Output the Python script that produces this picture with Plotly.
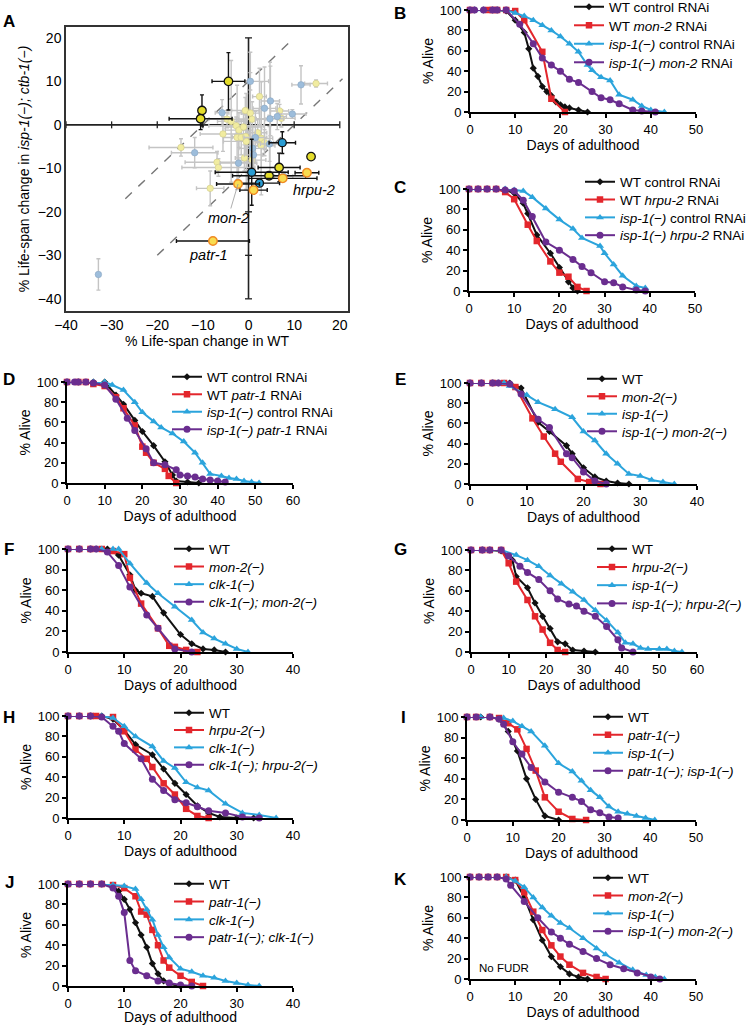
import plotly.graph_objects as go

W, H = 750, 1025
FONT = "Liberation Sans, Arial, sans-serif"

# ---------------- Panel A data ----------------
A_ticks = [-40, -30, -20, -10, 0, 10, 20]
# significant, yellow (black outline)
A_sy_x = [-4.4, -10.2, -10.5, 13.7, 6.7, 4.5]
A_sy_y = [10.0, 3.3, 1.4, -7.3, -9.8, -11.7]
A_sy_xe = [3.6, 0.0, 6.9, 0.0, 4.6, 8.0]
A_sy_ye = [6.6, 3.6, 2.5, 0.0, 3.3, 0.8]
# significant, blue (black outline)
A_sb_x = [7.4, 0.7, 2.4]
A_sb_y = [-4.1, -10.9, -13.4]
A_sb_xe = [2.9, 8.0, 4.4]
A_sb_ye = [2.5, 7.6, 0.6]
# highlighted (orange outline)
A_so_x = [12.8, 7.5, -2.3, 1.1, -7.8]
A_so_y = [-11.0, -12.3, -13.6, -15.0, -26.7]
A_so_xe = [2.6, 7.5, 4.7, 3.0, 8.0]
A_so_ye = [0.5, 0.5, 0.5, 0.5, 0.3]
# not significant, blue
A_nb_x = [-32.9, 11.5, 0.4, -5.8, -11.8, 4.8, 3.5, 6.3, 9.6, 4.7, 1.5, 4.6, 0.9, 1.1, -2.2, 7.7]
A_nb_y = [-34.4, 9.2, 10.0, 2.8, -6.4, 5.5, 3.8, 1.9, 2.5, 1.4, -2.9, -4.4, -5.4, -6.9, -8.8, -11.8]
A_nb_xe = [0.0, 2.0, 4.0, 1.5, 5.1, 2.0, 2.5, 2.0, 3.0, 3.0, 2.5, 2.0, 3.0, 2.0, 4.0, 2.0]
A_nb_ye = [3.6, 4.4, 2.0, 3.0, 3.5, 8.0, 9.5, 3.0, 1.0, 13.0, 6.0, 4.0, 5.0, 4.0, 5.0, 1.0]
# not significant, yellow
A_ny_x = [14.8, 2.4, -0.7, 0.4, 6.8, 7.2, -4.7, -3.8, -2.7, -2.1, -1.1, 0.8, -2.5, -1.6, -0.6,
          -0.5, 2.0, 2.8, 3.5, 2.8, -0.9, 0.8, -14.8, -6.9, -6.6, -8.4, -5.6]
A_ny_y = [9.5, 6.5, 3.3, 2.7, 3.2, 1.5, 1.3, 0.8, -0.2, -1.2, -0.5, 1.3, -2.9, -2.9, -2.7,
          -3.8, -1.8, -3.1, -4.1, -4.8, -7.6, -8.1, -5.2, -8.6, -9.8, -14.6, -2.1]
A_ny_xe = [2.5, 1.5, 3.0, 2.0, 2.0, 3.0, 4.0, 3.0, 6.0, 3.0, 4.0, 3.0, 3.0, 2.0, 3.0,
           5.0, 2.0, 2.5, 2.0, 3.0, 2.0, 3.0, 7.0, 7.0, 8.0, 3.0, 5.0]
A_ny_ye = [0.8, 6.5, 3.0, 14.0, 1.5, 2.0, 2.0, 14.0, 2.0, 4.0, 3.0, 4.0, 12.0, 4.0, 5.0,
           11.0, 3.0, 13.0, 3.0, 9.0, 3.0, 2.0, 2.0, 2.5, 2.0, 4.0, 4.0]
A_labels = ["hrpu-2", "mon-2", "patr-1"]

# ---------------- Survival data ----------------
B_wt_d = [0, 1, 3, 5, 6, 8, 10, 12, 13, 14, 15, 16, 17, 18, 19, 20, 21, 22, 24, 26]
B_wt_s = [100, 100, 100, 100, 100, 99, 90, 78, 62, 43, 35, 25, 20, 16, 10, 7, 5, 4, 2, 0]
B_r_d = [0, 4, 5, 6, 8, 10, 12, 16, 18, 21]
B_r_s = [100, 100, 100, 100, 100, 99, 90, 59, 13, 0]
B_b_d = [0, 1, 3, 5, 6, 8, 10, 12, 14, 16, 18, 20, 22, 24, 26, 27, 29, 31, 33, 36, 38, 40, 43]
B_b_s = [100, 100, 100, 100, 100, 100, 97, 94, 90, 85, 80, 74, 67, 59, 46, 41, 34, 31, 17, 12, 6, 2, 0]
B_p_d = [0, 1, 3, 5, 6, 8, 11, 14, 16, 18, 20, 22, 24, 27, 29, 31, 33, 36, 38, 41]
B_p_s = [100, 100, 100, 100, 100, 100, 86, 67, 53, 46, 40, 32, 29, 20, 14, 12, 8, 2, 1, 0]

C_wt_d = [0, 2, 4, 6, 8, 10, 12, 13, 15, 18, 20, 22, 23, 24]
C_wt_s = [100, 100, 100, 100, 99, 96, 86, 76, 55, 37, 23, 9, 3, 0]
C_r_d = [0, 2, 4, 6, 8, 10, 13, 15, 18, 20, 22, 24, 26]
C_r_s = [100, 100, 100, 100, 97, 90, 65, 49, 29, 18, 14, 4, 0]
C_b_d = [0, 2, 4, 6, 8, 10, 12, 14, 17, 20, 23, 25, 29, 30, 32, 34, 37, 39]
C_b_s = [100, 100, 100, 100, 100, 99, 98, 92, 81, 70, 61, 52, 44, 37, 26, 15, 5, 3]
C_p_d = [0, 2, 4, 6, 8, 10, 12, 14, 17, 20, 23, 25, 27, 30, 32, 34, 37, 39]
C_p_s = [100, 100, 100, 100, 99, 98, 89, 73, 48, 40, 31, 24, 18, 9, 8, 4, 1, 0]

D_wt_d = [0, 3, 7, 10, 13, 15, 18, 20, 23, 26, 28, 29, 32, 35]
D_wt_s = [100, 100, 100, 100, 87, 78, 62, 51, 37, 21, 8, 2, 1, 0]
D_r_d = [0, 3, 5, 7, 10, 13, 15, 18, 20, 21, 23, 26, 27, 29]
D_r_s = [100, 100, 100, 98, 96, 85, 74, 57, 36, 30, 20, 14, 7, 0]
D_b_d = [0, 3, 7, 10, 12, 15, 18, 20, 23, 25, 28, 31, 34, 36, 38, 41, 43, 45, 47, 49, 51]
D_b_s = [100, 100, 100, 100, 97, 92, 80, 70, 61, 55, 49, 41, 30, 20, 9, 7, 5, 4, 2, 1, 0]
D_p_d = [0, 2, 3, 5, 7, 10, 13, 16, 18, 21, 23, 26, 29, 30, 32, 34, 36, 38, 40, 42]
D_p_s = [100, 100, 100, 100, 99, 97, 83, 64, 52, 34, 20, 18, 13, 8, 7, 6, 4, 3, 2, 1]

E_wt_d = [0, 2, 4, 5, 7, 9, 12, 14, 17, 18, 20, 22, 24, 26, 28]
E_wt_s = [100, 100, 100, 100, 100, 95, 61, 52, 38, 30, 16, 7, 3, 1, 0]
E_r_d = [0, 2, 4, 6, 8, 11, 13, 15, 16, 19, 21, 23]
E_r_s = [100, 100, 100, 100, 96, 65, 47, 30, 22, 5, 2, 0]
E_b_d = [0, 2, 4, 6, 7, 10, 12, 15, 18, 20, 22, 24, 26, 28, 30, 32, 34, 36]
E_b_s = [100, 100, 100, 100, 97, 88, 81, 74, 66, 52, 43, 30, 20, 10, 8, 4, 2, 0]
E_p_d = [0, 2, 4, 5, 7, 9, 12, 14, 17, 18, 20, 22, 24]
E_p_s = [100, 100, 100, 100, 99, 89, 64, 56, 30, 26, 12, 3, 0]

F_wt_d = [0, 2, 4, 5, 7, 9, 11, 12, 13, 15, 17, 20, 22, 24, 26, 28]
F_wt_s = [100, 100, 100, 100, 100, 94, 75, 60, 57, 54, 38, 17, 8, 3, 2, 0]
F_r_d = [0, 2, 4, 6, 8, 10, 11, 13, 16, 18, 19, 21, 23]
F_r_s = [100, 100, 100, 100, 98, 95, 72, 47, 23, 6, 5, 2, 0]
F_b_d = [0, 2, 4, 6, 8, 9, 11, 14, 16, 19, 22, 24, 26, 28, 30, 32]
F_b_s = [100, 100, 100, 100, 100, 100, 86, 67, 57, 44, 31, 19, 13, 8, 3, 0]
F_p_d = [0, 2, 4, 5, 7, 9, 11, 14, 16, 19, 22]
F_p_s = [100, 100, 100, 100, 97, 84, 63, 36, 23, 3, 0]

G_wt_d = [0, 3, 5, 8, 11, 12, 15, 17, 19, 21, 23, 25, 27, 30, 33]
G_wt_s = [100, 100, 100, 99, 90, 74, 63, 48, 35, 23, 10, 8, 2, 1, 0]
G_r_d = [0, 3, 5, 8, 10, 12, 15, 17, 19, 21, 23, 25]
G_r_s = [100, 100, 100, 100, 87, 69, 51, 35, 22, 9, 2, 0]
G_b_d = [0, 3, 5, 8, 12, 15, 18, 21, 24, 27, 30, 33, 36, 39, 41, 43, 45, 47, 50, 52, 54, 56]
G_b_s = [100, 100, 100, 100, 95, 90, 84, 75, 67, 59, 51, 41, 31, 19, 9, 8, 4, 3, 3, 3, 1, 0]
G_p_d = [0, 3, 5, 8, 10, 13, 15, 18, 21, 23, 26, 28, 30, 33, 36, 39, 40, 43]
G_p_s = [100, 100, 100, 100, 94, 84, 78, 71, 60, 52, 47, 45, 40, 35, 25, 12, 4, 0]

H_wt_d = [0, 2, 4, 6, 8, 10, 12, 15, 17, 19, 21, 23, 25, 27, 30, 33]
H_wt_s = [100, 100, 100, 100, 97, 86, 72, 62, 48, 34, 23, 12, 5, 1, 0, 0]
H_r_d = [0, 2, 4, 5, 8, 10, 12, 14, 15, 17, 19, 21, 23, 25]
H_r_s = [100, 100, 100, 100, 99, 85, 67, 58, 50, 34, 23, 9, 2, 0]
H_b_d = [0, 2, 4, 6, 8, 10, 12, 15, 17, 19, 21, 23, 25, 28, 31, 34, 37]
H_b_s = [100, 100, 100, 100, 98, 90, 80, 70, 56, 49, 35, 30, 27, 14, 5, 3, 0]
H_p_d = [0, 2, 4, 6, 8, 9, 10, 13, 15, 17, 19, 21, 23, 25, 28, 31, 34]
H_p_s = [100, 100, 100, 99, 90, 85, 73, 58, 38, 27, 18, 15, 11, 7, 5, 1, 0]

I_wt_d = [0, 3, 5, 7, 9, 11, 13, 15, 17, 20]
I_wt_s = [100, 100, 100, 98, 86, 67, 40, 20, 4, 0]
I_r_d = [0, 2, 5, 7, 9, 11, 13, 15, 17, 20, 23, 26]
I_r_s = [100, 100, 100, 99, 94, 88, 69, 48, 22, 8, 1, 0]
I_b_d = [0, 3, 5, 8, 10, 12, 14, 17, 20, 23, 25, 27, 29, 31, 33, 35, 37, 39, 41]
I_b_s = [100, 100, 100, 99, 96, 91, 86, 72, 55, 47, 38, 29, 22, 13, 8, 6, 4, 2, 0]
I_p_d = [0, 2, 5, 7, 8, 10, 12, 14, 17, 20, 23, 25, 27, 29, 31, 33]
I_p_s = [100, 100, 100, 98, 93, 76, 64, 51, 37, 27, 22, 18, 10, 7, 3, 2]

J_wt_d = [0, 2, 4, 6, 8, 9, 10, 11, 12, 13, 14, 15, 16, 17, 18, 20]
J_wt_s = [100, 100, 100, 100, 98, 93, 85, 75, 62, 50, 38, 22, 12, 5, 2, 0]
J_r_d = [0, 2, 4, 6, 8, 10, 12, 13, 14, 15, 16, 17, 18, 20, 22, 24]
J_r_s = [100, 100, 100, 100, 99, 96, 88, 73, 70, 55, 40, 25, 18, 10, 4, 0]
J_b_d = [0, 2, 4, 6, 8, 10, 12, 13, 14, 15, 16, 17, 18, 20, 22, 24, 26, 28, 30, 32, 34]
J_b_s = [100, 100, 100, 100, 99, 98, 95, 85, 75, 65, 50, 38, 28, 17, 14, 10, 8, 5, 3, 1, 0]
J_p_d = [0, 2, 4, 6, 8, 9, 10, 11, 12, 14, 16, 18, 20, 22]
J_p_s = [100, 100, 100, 100, 96, 88, 72, 25, 15, 10, 5, 3, 1, 0]

K_wt_d = [0, 2, 4, 6, 8, 10, 12, 14, 16, 18, 20, 22, 24, 26]
K_wt_s = [100, 100, 100, 100, 100, 97, 80, 58, 38, 22, 12, 5, 2, 0]
K_r_d = [0, 2, 4, 6, 8, 10, 12, 14, 16, 18, 20, 22, 25, 28, 30]
K_r_s = [100, 100, 100, 100, 100, 97, 85, 66, 48, 33, 22, 14, 6, 2, 0]
K_b_d = [0, 2, 4, 6, 8, 10, 12, 14, 16, 18, 20, 22, 25, 28, 30, 33, 36, 39, 41, 43]
K_b_s = [100, 100, 100, 100, 100, 96, 90, 80, 70, 62, 55, 50, 40, 30, 24, 16, 9, 4, 2, 0]
K_p_d = [0, 2, 4, 6, 8, 9, 12, 15, 18, 20, 22, 25, 28, 31, 34, 37, 40, 42]
K_p_s = [100, 100, 100, 100, 98, 92, 76, 60, 46, 40, 34, 27, 20, 14, 10, 6, 2, 0]

MINUS = "\u2212"
def neg(g):
    return f"<i>{g}({MINUS})</i>"

B_names = ["WT control RNAi", "WT <i>mon-2</i> RNAi", neg("isp-1") + " control RNAi", neg("isp-1") + " <i>mon-2</i> RNAi"]
C_names = ["WT control RNAi", "WT <i>hrpu-2</i> RNAi", neg("isp-1") + " control RNAi", neg("isp-1") + " <i>hrpu-2</i> RNAi"]
D_names = ["WT control RNAi", "WT <i>patr-1</i> RNAi", neg("isp-1") + " control RNAi", neg("isp-1") + " <i>patr-1</i> RNAi"]
E_names = ["WT", neg("mon-2"), neg("isp-1"), neg("isp-1") + " " + neg("mon-2")]
F_names = ["WT", neg("mon-2"), neg("clk-1"), neg("clk-1") + "<i>;</i> " + neg("mon-2")]
G_names = ["WT", neg("hrpu-2"), neg("isp-1"), neg("isp-1") + "<i>;</i> " + neg("hrpu-2")]
H_names = ["WT", neg("hrpu-2"), neg("clk-1"), neg("clk-1") + "<i>;</i> " + neg("hrpu-2")]
I_names = ["WT", neg("patr-1"), neg("isp-1"), neg("patr-1") + "<i>;</i> " + neg("isp-1")]
J_names = ["WT", neg("patr-1"), neg("clk-1"), neg("patr-1") + "<i>;</i> " + neg("clk-1")]
K_names = ["WT", neg("mon-2"), neg("isp-1"), neg("isp-1") + " " + neg("mon-2")]

COLORS = ["#111111", "#e3262c", "#2ba4dc", "#6a2d8f"]
SYMBOLS = ["diamond", "square", "triangle-up", "circle"]
MSIZES = [5.5, 6.5, 7, 7]

# layout (pixels): x0, x1, xmax, y_top(100%), y_bottom(0%), legend text x, legend first row y, row step
PANELS = [
    ("B", 470, 696, 50, 10, 112, 609, 7, 18.5, [(B_wt_d, B_wt_s), (B_r_d, B_r_s), (B_b_d, B_b_s), (B_p_d, B_p_s)], B_names, (400, 13)),
    ("C", 469, 695, 50, 189, 291, 620, 182, 17.8, [(C_wt_d, C_wt_s), (C_r_d, C_r_s), (C_b_d, C_b_s), (C_p_d, C_p_s)], C_names, (400, 188)),
    ("D", 67, 293, 60, 382, 483, 207, 377, 17.5, [(D_wt_d, D_wt_s), (D_r_d, D_r_s), (D_b_d, D_b_s), (D_p_d, D_p_s)], D_names, (9, 379)),
    ("E", 470, 697, 40, 383, 484, 622, 379, 17.5, [(E_wt_d, E_wt_s), (E_r_d, E_r_s), (E_b_d, E_b_s), (E_p_d, E_p_s)], E_names, (400, 379)),
    ("F", 68, 293, 40, 549, 652, 209, 549, 17.7, [(F_wt_d, F_wt_s), (F_r_d, F_r_s), (F_b_d, F_b_s), (F_p_d, F_p_s)], F_names, (9, 549)),
    ("G", 471, 697, 60, 550, 652, 632, 549, 18.2, [(G_wt_d, G_wt_s), (G_r_d, G_r_s), (G_b_d, G_b_s), (G_p_d, G_p_s)], G_names, (400, 549)),
    ("H", 68, 293, 40, 716, 818, 209, 713, 17.3, [(H_wt_d, H_wt_s), (H_r_d, H_r_s), (H_b_d, H_b_s), (H_p_d, H_p_s)], H_names, (9, 717)),
    ("I", 467, 696, 50, 717, 820, 628, 717, 18.0, [(I_wt_d, I_wt_s), (I_r_d, I_r_s), (I_b_d, I_b_s), (I_p_d, I_p_s)], I_names, (403, 717)),
    ("J", 68, 293, 40, 884, 986, 209, 884, 17.8, [(J_wt_d, J_wt_s), (J_r_d, J_r_s), (J_b_d, J_b_s), (J_p_d, J_p_s)], J_names, (9, 882)),
    ("K", 470, 696, 50, 877, 979, 628, 878, 17.8, [(K_wt_d, K_wt_s), (K_r_d, K_r_s), (K_b_d, K_b_s), (K_p_d, K_p_s)], K_names, (400, 879)),
]


def fx(p):
    return p / W


def fy(p):
    return 1 - p / H


fig = go.Figure()
layout = dict(
    width=W, height=H, margin=dict(l=0, r=0, t=0, b=0, autoexpand=False),
    paper_bgcolor="white", plot_bgcolor="white",
    font=dict(family=FONT, size=13, color="black"),
    showlegend=True,
)
annotations = []
shapes = []

# ---------------- Panel A ----------------
A_x0, A_x1, A_yt, A_yb = 66, 348, 27, 311
layout["xaxis"] = dict(domain=[fx(A_x0), fx(A_x1)], range=[-40, 21.8], tickvals=A_ticks,
                       ticktext=[str(t).replace("-", MINUS) for t in A_ticks],
                       showline=True, mirror=True, linecolor="#333333", linewidth=1.5,
                       ticks="", showgrid=False, zeroline=False, anchor="y", automargin=False,
                       tickfont=dict(size=14), title=dict(text="% Life-span change in WT", font=dict(size=14), standoff=3))
layout["yaxis"] = dict(domain=[fy(A_yb), fy(A_yt)], range=[-42.8, 22.5], tickvals=A_ticks,
                       ticktext=[str(t).replace("-", MINUS) for t in A_ticks],
                       showline=True, mirror=True, linecolor="#333333", linewidth=1.5,
                       ticks="", showgrid=False, zeroline=False, anchor="x", automargin=False,
                       tickfont=dict(size=14),
                       title=dict(text=f"% Life-span change in <i>isp-1({MINUS}); ctb-1({MINUS})</i>", font=dict(size=14), standoff=5))

# zero cross lines with ticks
shapes.append(dict(type="line", xref="x", yref="y", x0=A_ticks[0], x1=A_ticks[-1], y0=0, y1=0,
                   line=dict(color="#222222", width=1.6), layer="below"))
shapes.append(dict(type="line", xref="x", yref="y", x0=0, x1=0, y0=A_ticks[0], y1=A_ticks[-1],
                   line=dict(color="#222222", width=1.6), layer="below"))
# dashed diagonals  y = x + 10 and y = x - 10
shapes.append(dict(type="line", xref="x", yref="y", x0=-27, x1=10, y0=-27 + 10, y1=10 + 10,
                   line=dict(color="#777777", width=1.4, dash="dash"), layer="below"))
shapes.append(dict(type="line", xref="x", yref="y", x0=-20, x1=20.6, y0=-20 - 10, y1=20.6 - 10,
                   line=dict(color="#777777", width=1.4, dash="dash"), layer="below"))

fig.add_trace(go.Scatter(x=A_ticks, y=[0] * len(A_ticks), mode="markers", xaxis="x", yaxis="y",
                         marker=dict(symbol="line-ns", size=5, line=dict(color="#222222", width=1.3)),
                         showlegend=False, hoverinfo="skip"))
fig.add_trace(go.Scatter(x=[0] * len(A_ticks), y=A_ticks, mode="markers", xaxis="x", yaxis="y",
                         marker=dict(symbol="line-ew", size=5, line=dict(color="#222222", width=1.3)),
                         showlegend=False, hoverinfo="skip"))


def a_trace(x, y, xe, ye, fill, outline, size, ecolor, ow):
    fig.add_trace(go.Scatter(
        x=x, y=y, mode="markers", xaxis="x", yaxis="y", showlegend=False,
        error_x=dict(type="data", array=xe, color=ecolor, thickness=1.4, width=2),
        error_y=dict(type="data", array=ye, color=ecolor, thickness=1.4, width=2),
        marker=dict(color=fill, size=size, line=dict(color=outline, width=ow)),
    ))


a_trace(A_ny_x, A_ny_y, A_ny_xe, A_ny_ye, "#f1eca0", "#cfc98a", 6.5, "#c4c4c4", 0.6)
a_trace(A_nb_x, A_nb_y, A_nb_xe, A_nb_ye, "#9dbddb", "#8aa6c2", 6.5, "#c4c4c4", 0.6)
a_trace(A_sy_x, A_sy_y, A_sy_xe, A_sy_ye, "#e4dc2a", "#111111", 8.5, "#111111", 1.3)
a_trace(A_sb_x, A_sb_y, A_sb_xe, A_sb_ye, "#2a9dd4", "#111111", 8, "#111111", 1.3)
a_trace(A_so_x, A_so_y, A_so_xe, A_so_ye, "#f8dc50", "#f08a24", 8.5, "#111111", 1.4)

annotations.append(dict(x=A_so_x[0] + 1.5, y=A_so_y[0] - 4, xref="x", yref="y", text=f"<i>{A_labels[0]}</i>",
                        showarrow=False, font=dict(size=14.5), xanchor="center", yanchor="middle"))
annotations.append(dict(x=A_so_x[2], y=A_so_y[2], xref="x", yref="y", text=f"<i>{A_labels[1]}</i>",
                        showarrow=True, arrowhead=0, arrowwidth=0.8, arrowcolor="#999999", ax=-10, ay=34,
                        font=dict(size=14.5)))
annotations.append(dict(x=A_so_x[4] - 1, y=A_so_y[4] - 3.2, xref="x", yref="y", text=f"<i>{A_labels[2]}</i>",
                        showarrow=False, font=dict(size=14.5), xanchor="center", yanchor="middle"))
annotations.append(dict(x=fx(9), y=fy(21), xref="paper", yref="paper", text="<b>A</b>", showarrow=False,
                        font=dict(size=17), xanchor="center", yanchor="middle"))

# ---------------- survival panels ----------------
leg_idx = 2
for i, (lab, x0, x1, xmax, yt, yb, ltx, lty, step, series, names, lpos) in enumerate(PANELS):
    n = i + 2
    xa, ya = f"x{n}", f"y{n}"
    layout[f"xaxis{n}"] = dict(domain=[fx(x0), fx(x1)], range=[0, xmax], dtick=10, anchor=ya,
                               showline=True, linecolor="black", linewidth=2, ticks="outside",
                               ticklen=4, tickwidth=1.5, tickcolor="black", showgrid=False,
                               zeroline=False, automargin=False, tickfont=dict(size=13),
                               title=dict(text="Days of adulthood", standoff=2, font=dict(size=14)))
    layout[f"yaxis{n}"] = dict(domain=[fy(yb), fy(yt)], range=[0, 100], dtick=20, anchor=xa,
                               showline=True, linecolor="black", linewidth=2, ticks="outside",
                               ticklen=4, tickwidth=1.5, tickcolor="black", showgrid=False,
                               zeroline=False, automargin=False, tickfont=dict(size=13),
                               title=dict(text="% Alive", standoff=3, font=dict(size=14)))
    for k, ((d, s), name) in enumerate(zip(series, names)):
        leg = f"legend{leg_idx}"
        leg_idx += 1
        layout[leg] = dict(x=fx(ltx - 40), y=fy(lty + k * step), xanchor="left", yanchor="middle",
                           bgcolor="rgba(0,0,0,0)", font=dict(size=13.5), itemclick=False,
                           itemdoubleclick=False)
        fig.add_trace(go.Scatter(
            x=d, y=s, mode="lines+markers", name=name, xaxis=xa, yaxis=ya, legend=leg,
            cliponaxis=False,
            line=dict(color=COLORS[k], width=2),
            marker=dict(symbol=SYMBOLS[k], size=MSIZES[k], color=COLORS[k]),
        ))
    annotations.append(dict(x=fx(lpos[0]), y=fy(lpos[1]), xref="paper", yref="paper", text=f"<b>{lab}</b>",
                            showarrow=False, font=dict(size=17), xanchor="center", yanchor="middle"))

annotations.append(dict(x=fx(477), y=fy(968), xref="paper", yref="paper", text="No FUDR", xanchor="left",
                        yanchor="middle", showarrow=False, font=dict(size=11.5)))

layout["annotations"] = annotations
layout["shapes"] = shapes
fig.update_layout(**layout)
fig.write_html("out.html", config={"displayModeBar": False},
               post_script="document.body.style.margin='0';document.body.style.padding='0';document.body.style.overflow='hidden';")
